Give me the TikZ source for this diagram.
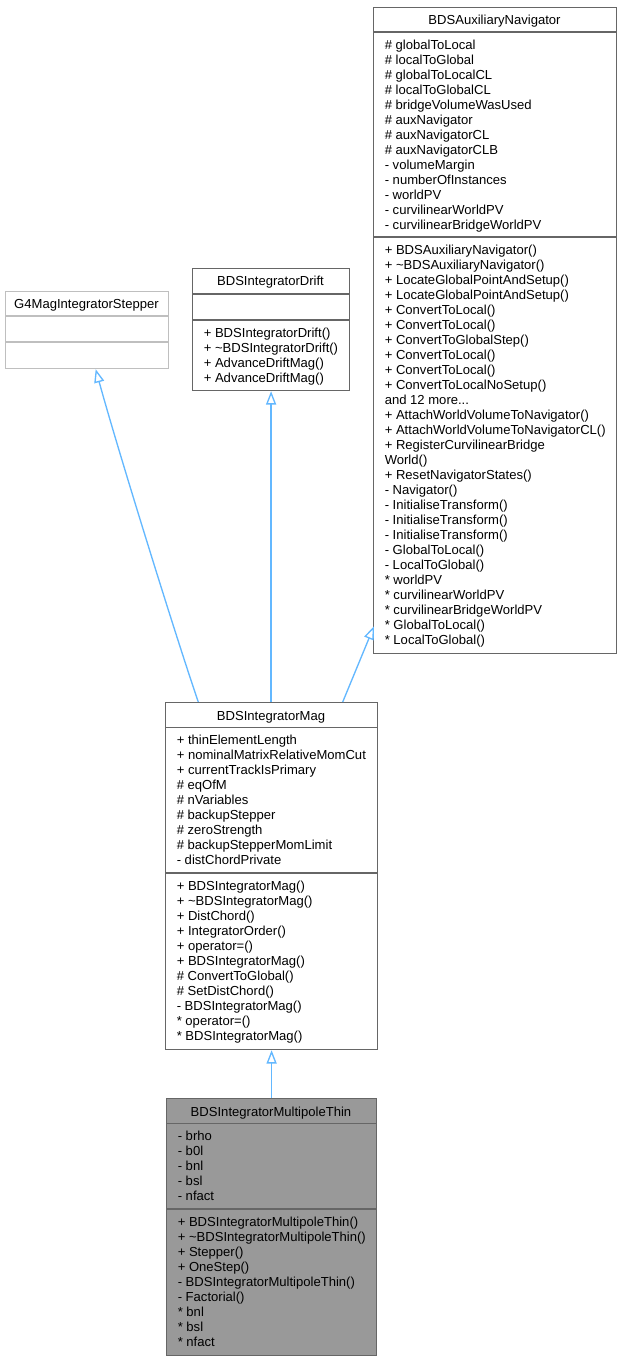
\documentclass[tikz,border=0pt]{standalone}
\usepackage{fontspec}
\setmainfont{Liberation Sans}
\usetikzlibrary{arrows.meta,calc}
\definecolor{bordergray}{HTML}{666666}
\definecolor{lightborder}{HTML}{BFBFBF}
\definecolor{fillgray}{HTML}{999999}
\definecolor{edgeblue}{HTML}{63B8FF}
\tikzset{
  box/.style={draw=bordergray, line width=0.9pt, inner sep=0pt, anchor=north west},
  sepline/.style={draw=bordergray, line width=0.9pt},
  title/.style={anchor=base, inner sep=0pt},
  members/.style={anchor=north west, inner sep=0pt, align=left},
  edge/.style={draw=edgeblue, line width=1pt, -{Triangle[open, length=10pt, width=7.5pt]}}
}
\newcommand{\fl}{\rule{0pt}{9pt}}
\begin{document}
\begin{tikzpicture}[x=0.75pt, y=-0.75pt, font=\fontsize{9.8}{11.25}\selectfont]
\useasboundingbox (0,0) rectangle (622,1362);
\fill[white] (0,0) rectangle (622,1362);

% G4MagIntegratorStepper
\node[box, draw=lightborder, minimum width=163*0.75pt, minimum height=77*0.75pt] (g4) at (5,291) {};
\draw[sepline, draw=lightborder] (g4.west |- 0,316) -- (g4.east |- 0,316);
\draw[sepline, draw=lightborder] (g4.west |- 0,342) -- (g4.east |- 0,342);
\node[title] (g4t) at (86.5,309) {G4MagIntegratorStepper};

% BDSIntegratorDrift
\node[box, minimum width=157*0.75pt, minimum height=122*0.75pt] (drift) at (192,268) {};
\draw[sepline] (drift.west |- 0,294) -- (drift.east |- 0,294);
\draw[sepline] (drift.west |- 0,320) -- (drift.east |- 0,320);
\node[title] (driftt) at (270.5,286) {BDSIntegratorDrift};
\node[members] (driftm) at (203.5,325) {\fl+ BDSIntegratorDrift()\\
+ \textasciitilde BDSIntegratorDrift()\\
+ AdvanceDriftMag()\\
+ AdvanceDriftMag()};

% BDSAuxiliaryNavigator
\node[box, minimum width=243*0.75pt, minimum height=646*0.75pt] (aux) at (373,7) {};
\draw[sepline] (aux.west |- 0,32) -- (aux.east |- 0,32);
\draw[sepline] (aux.west |- 0,237) -- (aux.east |- 0,237);
\node[title] (auxt) at (494.5,25) {BDSAuxiliaryNavigator};
\node[members] (auxa) at (384.5,37) {\fl\# globalToLocal\\
\# localToGlobal\\
\# globalToLocalCL\\
\# localToGlobalCL\\
\# bridgeVolumeWasUsed\\
\# auxNavigator\\
\# auxNavigatorCL\\
\# auxNavigatorCLB\\
- volumeMargin\\
- numberOfInstances\\
- worldPV\\
- curvilinearWorldPV\\
- curvilinearBridgeWorldPV};
\node[members] (auxm) at (384.5,242) {\fl+ BDSAuxiliaryNavigator()\\
+ \textasciitilde BDSAuxiliaryNavigator()\\
+ LocateGlobalPointAndSetup()\\
+ LocateGlobalPointAndSetup()\\
+ ConvertToLocal()\\
+ ConvertToLocal()\\
+ ConvertToGlobalStep()\\
+ ConvertToLocal()\\
+ ConvertToLocal()\\
+ ConvertToLocalNoSetup()\\
and 12 more...\\
+ AttachWorldVolumeToNavigator()\\
+ AttachWorldVolumeToNavigatorCL()\\
+ RegisterCurvilinearBridge\\
World()\\
+ ResetNavigatorStates()\\
- Navigator()\\
- InitialiseTransform()\\
- InitialiseTransform()\\
- InitialiseTransform()\\
- GlobalToLocal()\\
- LocalToGlobal()\\
* worldPV\\
* curvilinearWorldPV\\
* curvilinearBridgeWorldPV\\
* GlobalToLocal()\\
* LocalToGlobal()};

% BDSIntegratorMag
\node[box, minimum width=212*0.75pt, minimum height=347*0.75pt] (mag) at (165,702) {};
\draw[sepline] (mag.west |- 0,727.5) -- (mag.east |- 0,727.5);
\draw[sepline] (mag.west |- 0,873) -- (mag.east |- 0,873);
\node[title] (magt) at (271,720) {BDSIntegratorMag};
\node[members] (maga) at (176.5,732.5) {\fl+ thinElementLength\\
+ nominalMatrixRelativeMomCut\\
+ currentTrackIsPrimary\\
\# eqOfM\\
\# nVariables\\
\# backupStepper\\
\# zeroStrength\\
\# backupStepperMomLimit\\
- distChordPrivate};
\node[members] (magm) at (176.5,878) {\fl+ BDSIntegratorMag()\\
+ \textasciitilde BDSIntegratorMag()\\
+ DistChord()\\
+ IntegratorOrder()\\
+ operator=()\\
+ BDSIntegratorMag()\\
\# ConvertToGlobal()\\
\# SetDistChord()\\
- BDSIntegratorMag()\\
* operator=()\\
* BDSIntegratorMag()};

% BDSIntegratorMultipoleThin
\node[box, fill=fillgray, minimum width=210*0.75pt, minimum height=257*0.75pt] (multi) at (166,1098) {};
\draw[sepline] (multi.west |- 0,1123.5) -- (multi.east |- 0,1123.5);
\draw[sepline] (multi.west |- 0,1209) -- (multi.east |- 0,1209);
\node[title] (multit) at (271,1116) {BDSIntegratorMultipoleThin};
\node[members] (multia) at (177.5,1128.5) {\fl- brho\\
- b0l\\
- bnl\\
- bsl\\
- nfact};
\node[members] (multim) at (177.5,1214) {\fl+ BDSIntegratorMultipoleThin()\\
+ \textasciitilde BDSIntegratorMultipoleThin()\\
+ Stepper()\\
+ OneStep()\\
- BDSIntegratorMultipoleThin()\\
- Factorial()\\
* bnl\\
* bsl\\
* nfact};

% inheritance edges
\draw[edge] ($(mag.north west)+(33.3,0)$) .. controls ($(mag.north west)+(12.6,-60)$) and ($(g4.south west)+(112.6,80)$) .. ($(g4.south west)+(90.7,0)$);
\draw[edge] (mag.north -| drift.south) -- (drift.south);
\draw[edge] ($(mag.north west)+(177.7,0)$) -- ($(aux.south west)+(1,-28)$);
\draw[edge] (multi.north) -- (mag.south);
\end{tikzpicture}
\end{document}
